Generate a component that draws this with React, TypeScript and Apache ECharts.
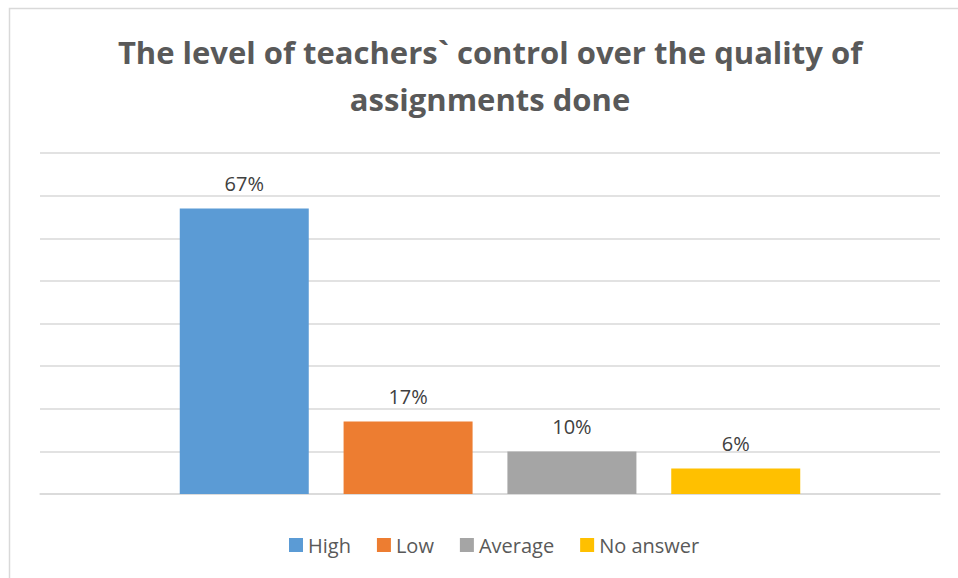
import React, { useEffect, useRef } from "react";
import * as echarts from "echarts";

const categories = ["Level"];
const seriesNames = ["High", "Low", "Average", "No answer"];
const seriesValues = [67, 17, 10, 6];
const seriesColors = ["#5B9BD5", "#ED7D31", "#A5A5A5", "#FFC000"];
const titleText = "The level of teachers` control over the quality of\nassignments done";

export default function App() {
  const ref = useRef<HTMLDivElement>(null);
  useEffect(() => {
    document.body.style.margin = "0";
    const chart = echarts.init(ref.current!, null, { renderer: "svg" });
    chart.setOption({
      animation: false,
      backgroundColor: "#ffffff",
      title: {
        text: titleText,
        left: 485,
        top: 23,
        padding: 5,
        textAlign: "center",
        textStyle: {
          fontFamily: "Open Sans",
          fontWeight: "bold",
          fontSize: 31,
          color: "#595959",
          lineHeight: 47,
        },
      },
      graphic: [
        {
          type: "rect",
          shape: { x: 9.5, y: 8.5, width: 1000, height: 1000 },
          style: { fill: "none", stroke: "#d9d9d9", lineWidth: 1.5 },
          silent: true,
        },
      ],
      legend: {
        bottom: 23,
        left: 289,
        padding: 0,
        itemWidth: 14,
        itemHeight: 14,
        itemGap: 26,
        icon: "rect",
        textStyle: { fontFamily: "Open Sans", fontSize: 20, color: "#595959" },
        data: seriesNames,
      },
      grid: { left: 40, right: 18, top: 153, bottom: 84 },
      xAxis: {
        type: "category",
        data: categories,
        axisLine: { show: true, lineStyle: { color: "#d9d9d9", width: 1.5 } },
        axisTick: { show: false },
        axisLabel: { show: false },
      },
      yAxis: {
        type: "value",
        min: 0,
        max: 80,
        interval: 10,
        axisLabel: { show: false },
        axisLine: { show: false },
        axisTick: { show: false },
        splitLine: { lineStyle: { color: "#d9d9d9", width: 1.5 } },
      },
      series: seriesNames.map((name, i) => ({
        name,
        type: "bar",
        data: [seriesValues[i]],
        barWidth: 129,
        barGap: "27%",
        itemStyle: { color: seriesColors[i] },
        label: {
          show: true,
          position: "top",
          distance: 15,
          formatter: "{c}%",
          fontFamily: "Open Sans",
          fontSize: 20,
          color: "#404040",
        },
      })),
    });
    return () => chart.dispose();
  }, []);
  return <div ref={ref} style={{ position: "absolute", left: 0, top: 0, width: 958, height: 578 }} />;
}
